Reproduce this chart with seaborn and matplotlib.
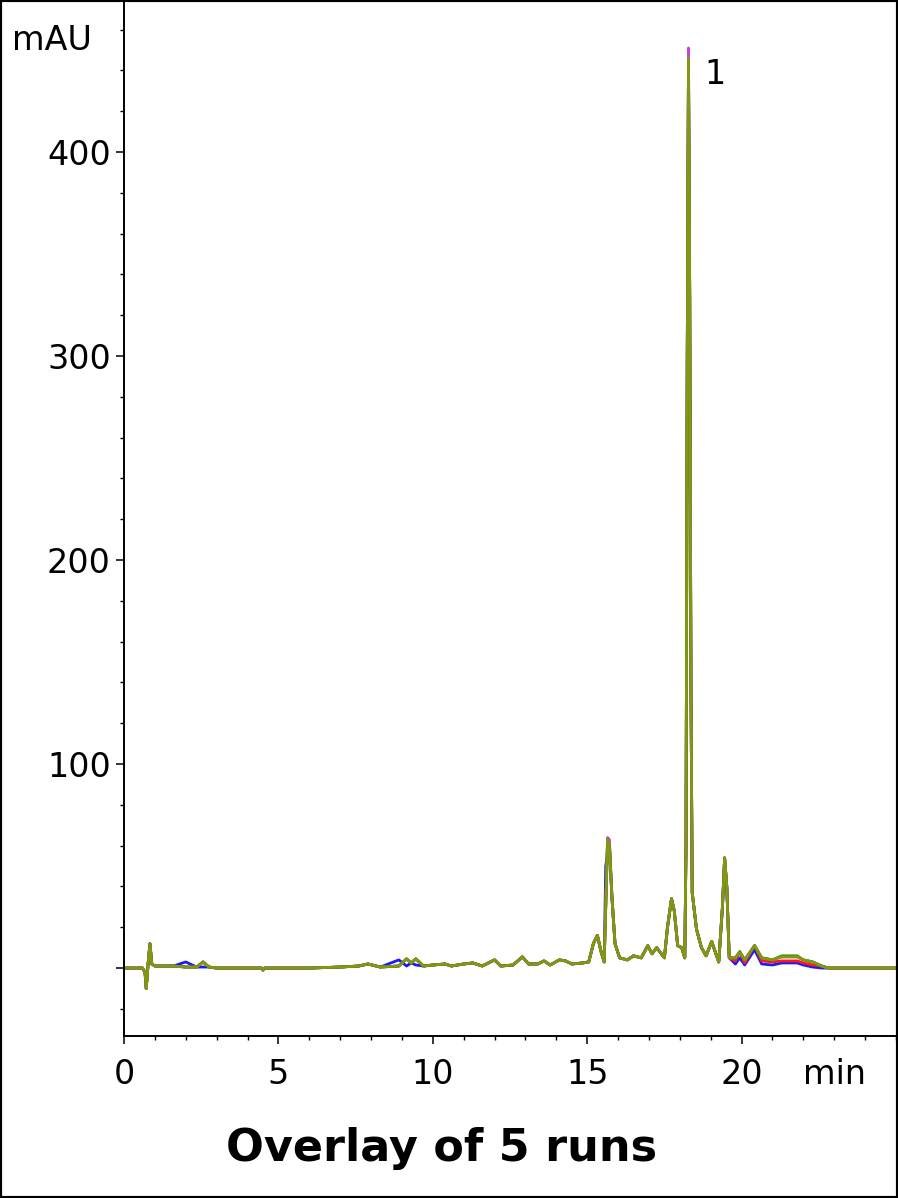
import pandas as pd
import seaborn as sns
import matplotlib.pyplot as plt
from matplotlib.ticker import MultipleLocator, FixedLocator
from matplotlib.patches import Rectangle

# retention time (min) and signal of the top (olive) trace
t = [0.0, 0.6, 0.68, 0.72, 0.78, 0.84, 0.9, 1.0, 1.6, 2.0,
     2.35, 2.56, 2.75, 3.0, 4.45, 4.5, 4.55, 6.0, 7.0, 7.6,
     7.9, 8.3, 8.9, 9.15, 9.3, 9.45, 9.7, 10.0, 10.4, 10.6,
     11.0, 11.3, 11.6, 12.0, 12.2, 12.6, 12.9, 13.1, 13.4, 13.6,
     13.8, 14.1, 14.3, 14.5, 14.85, 15.05, 15.2, 15.33, 15.45, 15.55,
     15.6, 15.66, 15.72, 15.8, 15.9, 16.05, 16.3, 16.5, 16.75, 16.96,
     17.1, 17.25, 17.5, 17.6, 17.73, 17.82, 17.93, 18.06, 18.16, 18.2,
     18.24, 18.28, 18.32, 18.36, 18.4, 18.54, 18.7, 18.85, 19.03, 19.26,
     19.38, 19.45, 19.52, 19.6, 19.8, 19.94, 20.1, 20.42, 20.65, 21.0,
     21.3, 21.8, 22.0, 22.3, 22.6, 22.8, 25.0]
base = [0, 0, -2, -10, 2, 12, 2, 1, 1, 0.5,
        0.5, 3, 0.5, 0, 0, -1, 0, 0, 0.5, 1,
        2, 0.5, 1, 4.5, 2.5, 4.5, 1, 1.5, 2, 1,
        2, 2.5, 1, 4, 1, 1.5, 5.5, 2, 2, 3.5,
        1.5, 4, 3.5, 2, 2.5, 3, 12, 16, 8, 3,
        30, 63, 60, 35, 12, 5, 4, 6, 5, 11,
        7, 10, 5, 20, 34, 28, 11, 10, 5, 60,
        300, 446, 330, 140, 37, 19, 10, 6, 13, 3,
        30, 54, 40, 5, 5, 8, 4, 11, 5, 4,
        5.5, 5.5, 4, 3, 1, 0, 0]

# where the other runs differ from the olive one
blue_diff = {2.0: 3, 2.56: 0.5, 8.9: 4, 9.15: 1, 9.45: 1.5, 15.6: 50, 15.66: 56,
             18.28: 442, 19.8: 2, 19.94: 5, 20.1: 1.5, 20.42: 9, 20.65: 2,
             21.0: 1.5, 21.3: 2.5, 21.8: 2.5, 22.0: 1.5, 22.3: 0.5, 22.6: 0}
red_diff = {18.28: 444, 19.8: 3.5, 20.1: 2.5, 20.65: 3.5, 21.0: 3,
            21.3: 3.5, 21.8: 3.5, 22.0: 2.5, 22.3: 1.5}
magenta_diff = {15.66: 64, 15.72: 63, 18.28: 451}
green_diff = {18.28: 443, 21.3: 6, 21.8: 6}

runs = ['blue', 'red', 'magenta', 'green', 'olive']
diffs = [blue_diff, red_diff, magenta_diff, green_diff, {}]
colors = ['#1a1aff', '#ff1a1a', '#cc44cc', '#2e8b00', '#7f9a10']

rows = []
for run, d in zip(runs, diffs):
    for x, y in zip(t, base):
        rows.append({'run': run, 't': x, 'mAU': d.get(x, y)})
df = pd.DataFrame(rows)

sns.set_style('ticks')
plt.rcParams['font.family'] = ['DejaVu Sans']
plt.rcParams['text.color'] = 'black'
plt.rcParams['xtick.color'] = 'black'
plt.rcParams['ytick.color'] = 'black'

fig = plt.figure(figsize=(8.98, 11.98), dpi=100)
ax = fig.add_axes([124 / 898, 162 / 1198, 772 / 898, 1036 / 1198])

sns.lineplot(data=df, x='t', y='mAU', hue='run', hue_order=runs,
             palette=colors, estimator=None, sort=False, lw=2.0,
             legend=False, ax=ax)

ax.set_xlim(0, 25)
ax.set_ylim(-33.3, 474.5)
ax.set_xticks([0, 5, 10, 15, 20])
ax.xaxis.set_minor_locator(MultipleLocator(1))
ax.yaxis.set_major_locator(FixedLocator([0, 100, 200, 300, 400]))
ax.set_yticklabels(['', '100', '200', '300', '400'])
ax.yaxis.set_minor_locator(MultipleLocator(20))
ax.tick_params(which='major', length=6, width=1.1, labelsize=24,
               color='black', labelcolor='black')
ax.tick_params(which='minor', length=3, width=1.0, color='black')
ax.tick_params(axis='x', pad=10)
ax.set_xlabel('')
ax.set_ylabel('')
for s in ['top', 'right']:
    ax.spines[s].set_visible(False)
for s in ['left', 'bottom']:
    ax.spines[s].set_color('black')
    ax.spines[s].set_linewidth(1.4)

ax.text(19.15, 438, '1', fontsize=24, ha='center', va='center')
fig.text(12 / 898, 1 - 40 / 1198, 'mAU', fontsize=24, ha='left', va='center')
fig.text(835 / 898, 1 - 1075 / 1198, 'min', fontsize=24, ha='center', va='center')
fig.text(442 / 898, 1 - 1148 / 1198, 'Overlay of 5 runs', fontsize=32,
         fontweight='bold', ha='center', va='center')

fig.patches.append(Rectangle((0, 0), 1, 1, transform=fig.transFigure,
                             fill=False, edgecolor='black', lw=3))

fig.savefig('out.png', dpi=100)
